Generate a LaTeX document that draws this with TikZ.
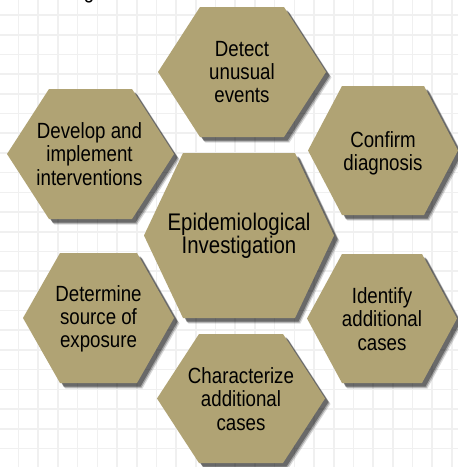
\documentclass[tikz,border=0pt]{standalone}
\usepackage{fontspec}
\setmainfont{Liberation Sans}[FakeStretch=0.85]
\definecolor{hexfill}{RGB}{176,163,116}
\definecolor{gridc}{RGB}{240,240,240}
\newcommand{\hexpath}[5]{(#1-#3,#2) -- (#1-#3+#5,#2-#4) -- (#1+#3-#5,#2-#4) -- (#1+#3,#2) -- (#1+#3-#5,#2+#4) -- (#1-#3+#5,#2+#4) -- cycle}
\newcommand{\hexa}[5]{%
  \fill[black,opacity=0.15,shift={(5.5,5.5)}] \hexpath{#1}{#2}{#3}{#4}{#5};
  \fill[black,opacity=0.25,shift={(4.5,4.5)}] \hexpath{#1}{#2}{#3}{#4}{#5};
  \fill[black,opacity=0.35,shift={(3.5,3.5)}] \hexpath{#1}{#2}{#3}{#4}{#5};
  \fill[hexfill] \hexpath{#1}{#2}{#3}{#4}{#5};}
\tikzset{
  outer/.style={align=center,inner sep=0pt,text=black,font=\fontsize{22}{23.3}\selectfont},
  inner/.style={align=center,inner sep=0pt,text=black,font=\fontsize{24}{22.3}\selectfont},
  gridline/.style={gridc,line width=1.6pt}
}
\begin{document}
\begin{tikzpicture}[x=1pt,y=-1pt]
\useasboundingbox (0,0) rectangle (458,467);
\clip (0,0) rectangle (458,467);
\fill[white] (0,0) rectangle (458,467);
\foreach \i in {0,...,23} {
  \draw[gridline] (18.5+19.7*\i,0) -- (18.5+19.7*\i,467);
  \draw[gridline] (0,15+19.7*\i) -- (458,15+19.7*\i);
}
\node[outer,anchor=base] (ttl) at (89,-1.5) {g};
% hexagons
\hexa{242}{72}{84}{65}{42}
\hexa{383}{150.5}{75}{64.5}{34}
\hexa{382}{318.5}{75}{64.5}{35}
\hexa{241}{398.5}{84}{64.5}{42}
\hexa{98.5}{318}{75.5}{65}{37}
\hexa{90.5}{154}{83.5}{65}{42}
\hexa{239}{235.5}{95}{82.5}{39}
% labels
\node[outer] (detect) at (242,72) {Detect\\unusual\\events};
\node[outer] (confirm) at (383,153) {Confirm\\diagnosis};
\node[outer] (identify) at (382,319) {Identify\\additional\\cases};
\node[outer] (charact) at (241,399) {Characterize\\additional\\cases};
\node[outer] (source) at (98.5,319) {Determine\\source of\\exposure};
\node[outer] (develop) at (89.5,154) {Develop and\\implement\\interventions};
\node[inner] (center) at (239,236) {Epidemiological\\Investigation};
\end{tikzpicture}
\end{document}
